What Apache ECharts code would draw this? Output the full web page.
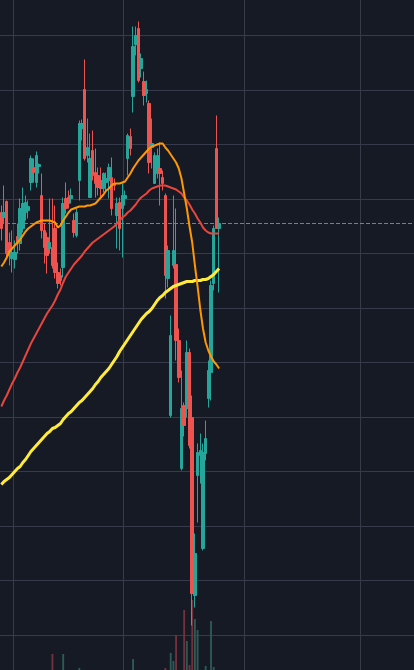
<!DOCTYPE html>
<html><head><meta charset="utf-8">
<script src="https://cdn.jsdelivr.net/npm/echarts@6/dist/echarts.min.js"></script>
<style>html,body{margin:0;padding:0;background:#161a25;overflow:hidden}#c{width:414px;height:670px}</style>
</head><body><div id="c"></div>
<script>
// OHLC candles: [open, close, low, high]
const candles = [
[477,461,449,484],[472,477,466,504],[488,436,433,489],[447,434,424,457],[431,437,417,459],
[430,437,421,449],[453,447,436,466],[446,481,439,491],[461,486,457,502],[477,487,469,494],
[479,483,471,489],[507,531,499,534],[522,517,507,531],[507,534,502,538],[523,525,516,526],
[494,459,451,516],[459,442,426,466],[452,434,416,457],[441,447,436,491],[442,424,421,491],
[461,417,411,484],[417,406,401,427],[414,409,404,421],[422,486,412,492],[491,481,476,507],
[492,486,481,499],[491,494,486,501],[469,457,452,476],[454,477,452,481],[509,566,489,569],
[561,566,549,570],[600,531,529,630],[534,542,527,571],[492,531,492,556],[539,514,509,559],
[517,506,492,541],[514,502,494,522],[509,501,492,522],[501,516,497,517],[507,511,497,517],
[509,522,491,526],[512,481,474,532],[506,504,499,511],[474,486,441,492],[487,461,439,492],
[481,494,432,506],[491,494,484,499],[531,554,514,556],[553,541,534,561],[593,643,577,663],
[645,654,634,663],[661,609,607,668],[621,631,612,636],[608,594,584,618],[596,600,587,609],
[586,527,516,589],[542,546,521,571],[506,534,506,537],[516,534,511,541],[521,516,484,547],
[512,506,499,519],[494,414,391,496],[411,439,402,444],[274,354,272,374],[424,439,421,494],
[425,349,329,481],[349,312,307,361],[221,281,219,319],[284,264,253,287],[281,337,272,349],
[337,244,241,341],[272,96,64,294],[94,136,82,156],[214,237,167,246],[234,239,206,256],
[141,237,139,246],[236,251,229,269],[291,319,282,329],[317,404,289,409],[406,461,399,464],
[541,461,461,574],[461,466,397,472]
];
const maFast = [
423,427,432,438,441,444,447,450,454,458,
461,463,465,467,468,469,469,469,469,468,
467,462,464,469,473,477,480,481,482,483,
483,483,484,484,485,486,489,492,495,499,
501,504,506,506,506,507,508,512,516,521,
525,529,532,535,538,541,543,544,545,546,
546,542,539,535,531,527,521,511,496,481,
463,447,424,403,380,361,347,339,333,328,
325,321
];
const maMid = [
283,289,294,300,306,311,317,322,328,334,
340,346,351,356,361,366,371,376,380,384,
389,395,400,407,413,417,421,425,428,431,
434,438,441,444,447,449,451,453,455,457,
459,461,463,466,469,472,474,477,479,482,
485,489,492,494,496,499,501,502,503,504,
504,504,503,502,501,500,498,496,492,489,
485,480,476,471,467,462,459,457,456,456,
456,456
];
const maSlow = [
205,208,210,212,215,218,221,223,227,230,
234,238,241,244,247,250,253,256,258,261,
262,264,266,270,273,276,278,281,284,287,
289,292,295,298,301,305,308,312,315,318,
321,325,329,333,338,342,346,350,354,358,
362,366,370,373,376,378,381,385,389,392,
394,397,399,401,403,404,405,406,407,408,
408,408,409,409,409,410,410,411,413,415,
418,421
];
const volumes = [
22,25,30,24,20,18,22,26,24,20,
18,28,24,30,16,32,26,28,22,56,
34,30,24,56,26,20,18,24,30,42,
22,36,26,30,28,22,20,18,16,20,
24,28,18,30,32,34,20,30,24,51,
30,36,24,22,20,34,26,30,24,28,
30,42,36,57,49,75,38,36,100,69,
45,110,91,80,36,38,44,32,89,43,
36,30
];
const slotCount = 154;
const timeGridSlots = [13,123,244,360];

const categories = Array.from({length: slotCount}, (_, i) => 'd' + i);
const pixelSlots = Array.from({length: 414}, (_, i) => 'p' + i);
const UP = '#26a69a', DOWN = '#ef5350';
const lastClose = candles[candles.length - 1][1];
const hidden = {axisLine: {show: false}, axisTick: {show: false}, axisLabel: {show: false}, splitLine: {show: false}};

const chart = echarts.init(document.getElementById('c'), null, {renderer: 'canvas'});
chart.setOption({
  backgroundColor: '#161a25',
  animation: false,
  grid: [
    {left: 0, right: 0, top: 35.5, bottom: 35},
    {left: 0, right: 0, top: 470, bottom: 0},
    {left: 0, right: 0, top: 0, bottom: 0}
  ],
  xAxis: [
    Object.assign({type: 'category', gridIndex: 0, data: categories, boundaryGap: true}, hidden),
    Object.assign({type: 'category', gridIndex: 1, data: categories, boundaryGap: true}, hidden),
    {type: 'category', gridIndex: 2, data: pixelSlots, boundaryGap: true,
     axisLine: {show: false}, axisTick: {show: false}, axisLabel: {show: false},
     splitLine: {show: true, interval: (idx) => timeGridSlots.includes(idx), lineStyle: {color: '#363a4a', width: 1}}}
  ],
  yAxis: [
    {type: 'value', gridIndex: 0, min: 54.5, max: 654, interval: 54.5,
     axisLine: {show: false}, axisTick: {show: false}, axisLabel: {show: false},
     splitLine: {show: true, lineStyle: {color: '#363a4a', width: 1}}},
    Object.assign({type: 'value', gridIndex: 1, min: 40, max: 240}, hidden),
    Object.assign({type: 'value', gridIndex: 2, min: 0, max: 1}, hidden)
  ],
  series: [
    {type: 'bar', xAxisIndex: 1, yAxisIndex: 1, barWidth: '70%', silent: true, z: 1, clip: true,
     data: volumes.map((v, i) => ({value: v, itemStyle: {color: candles[i][1] >= candles[i][0] ? '#2b5b54' : '#74303b'}}))},
    {type: 'candlestick', xAxisIndex: 0, yAxisIndex: 0, barWidth: 3, silent: true, z: 3, clip: false,
     itemStyle: {color: UP, color0: DOWN, borderColor: UP, borderColor0: DOWN, borderWidth: 1},
     data: candles,
     markLine: {silent: true, symbol: ['none', 'none'], label: {show: false},
       lineStyle: {color: UP, type: [4, 2], width: 1, opacity: 1},
       emphasis: {disabled: true},
       data: [{yAxis: lastClose}]}},
    {type: 'line', xAxisIndex: 0, yAxisIndex: 0, data: maSlow, showSymbol: false, silent: true, z: 5, clip: false,
     lineStyle: {color: '#ffeb3b', width: 3}},
    {type: 'line', xAxisIndex: 0, yAxisIndex: 0, data: maMid, showSymbol: false, silent: true, z: 5, clip: false,
     lineStyle: {color: '#e8453c', width: 2}},
    {type: 'line', xAxisIndex: 0, yAxisIndex: 0, data: maFast, showSymbol: false, silent: true, z: 6, clip: false,
     lineStyle: {color: '#ff9800', width: 2}}
  ]
});
</script></body></html>
